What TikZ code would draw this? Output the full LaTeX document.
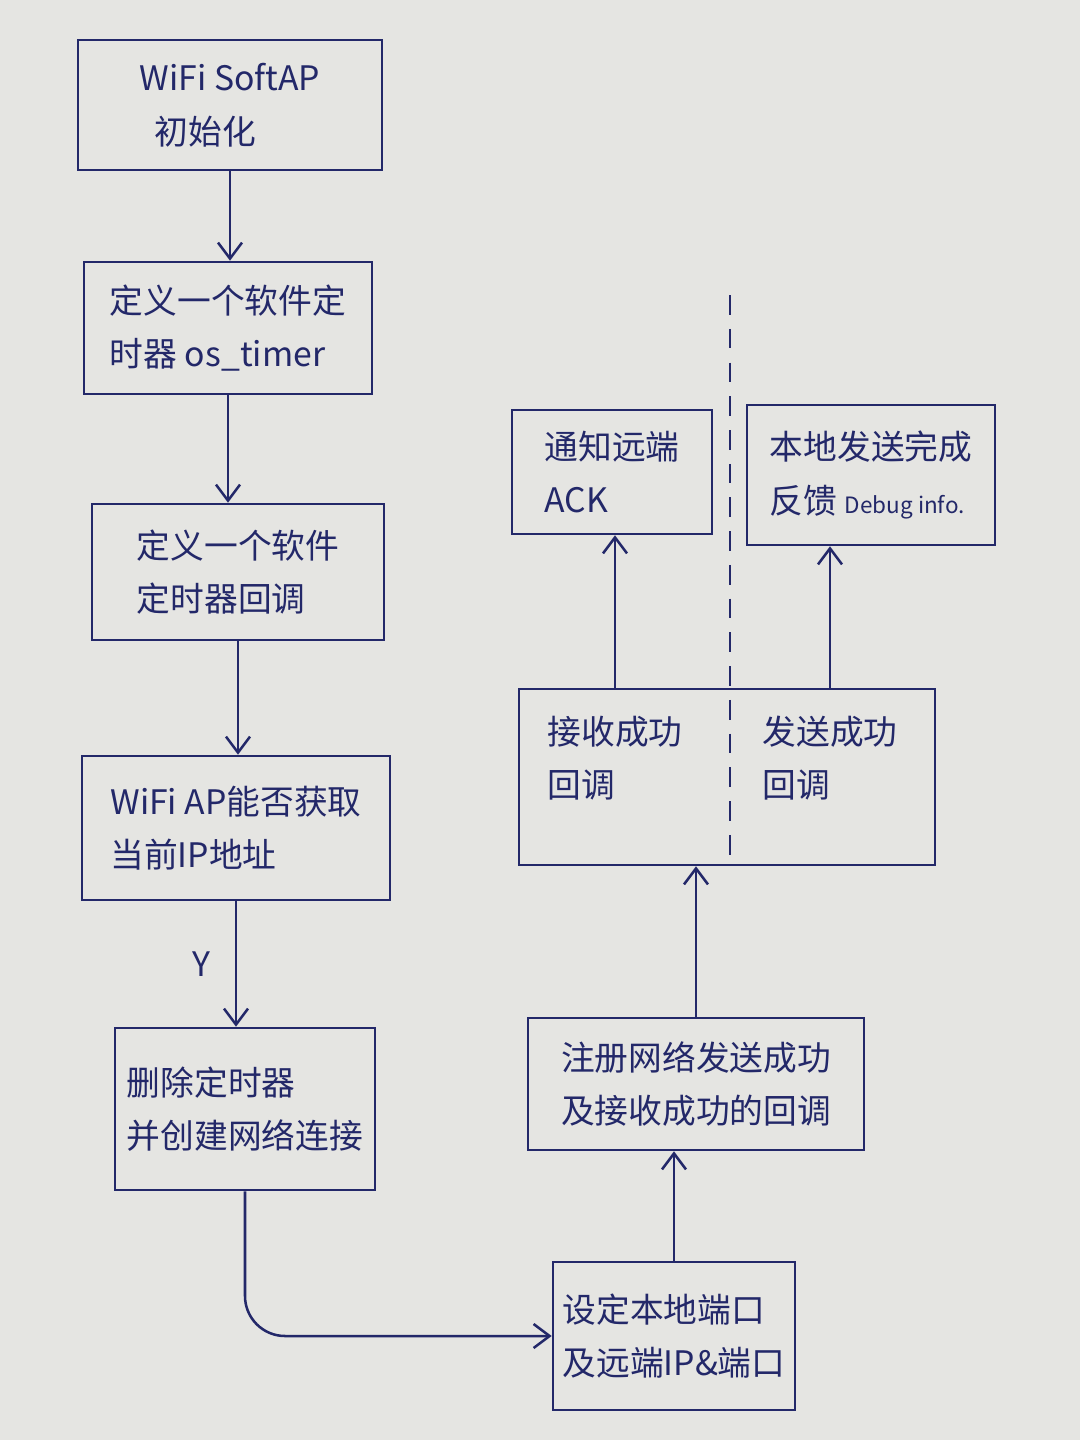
\documentclass[tikz,border=0pt]{standalone}
\usepackage{fontspec}
\newfontfamily\cjk{Noto Sans CJK SC}
\usetikzlibrary{arrows.meta}
\definecolor{ink}{RGB}{35,40,105}
\definecolor{paper}{RGB}{229,229,226}

\begin{document}
\begin{tikzpicture}[x=0.025cm, y=-0.025cm, color=ink, line width=1.8pt,
        >={Straight Barb[length=4mm, width=6mm]},
        box/.style={draw, align=left, font=\cjk\fontsize{24}{38}\selectfont},
        txt/.style={align=left, font=\cjk\fontsize{24}{38}\selectfont}]
            \fill[paper] (0, 0) rectangle (1080, 1440);
            \node[box, minimum width=7.6cm, minimum height=3.25cm] (init) at (230, 105) {WiFi SoftAP\\\ \ 初始化};
            \node[box, minimum width=7.2cm, minimum height=3.3cm] (timer) at (228, 328) {定义一个软件定\\时器 os\_timer};
            \node[box, minimum width=7.3cm, minimum height=3.4cm] (cbdef) at (238, 572) {定义一个软件\\定时器回调};
            \node[box, minimum width=7.7cm, minimum height=3.6cm] (getip) at (236, 828) {WiFi AP能否获取\\当前IP地址};
            \node[box, minimum width=6.5cm, minimum height=4.05cm] (del) at (245, 1109) {删除定时器\\并创建网络连接};
            \node[box, minimum width=6.05cm, minimum height=3.7cm] (set) at (674, 1336) {设定本地端口\\及远端IP\&端口};
            \node[box, minimum width=8.4cm, minimum height=3.3cm] (reg) at (696, 1084) {注册网络发送成功\\及接收成功的回调};
            \node[box, minimum width=10.4cm, minimum height=4.4cm] (cb) at (727, 777) {};
            \node[txt] (recv) at (615, 758) {接收成功\\回调};
            \node[txt] (send) at (830, 758) {发送成功\\回调};
            \node[box, minimum width=5cm, minimum height=3.1cm] (ack) at (612, 472) {通知远端\\ACK};
            \node[box, minimum width=6.2cm, minimum height=3.5cm] (debug) at (871, 475) {本地发送完成\\反馈 {\fontsize{16}{20}\selectfont Debug info.}};
            \coordinate (cut) at (730, 295);
            \draw[dash pattern=on 14pt off 10pt] (cut) -- (cut |- cb.south);
            \draw[->] (init.south) -- (init.south |- timer.north);
            \draw[->] (timer.south) -- (timer.south |- cbdef.north);
            \draw[->] (cbdef.south) -- (cbdef.south |- getip.north);
            \draw[->] (getip.south) -- (getip.south |- del.north) node[midway, left=5mm, font=\cjk\fontsize{24}{30}\selectfont]{Y};
            \draw[->, rounded corners=1cm] (del.south) |- (set.west);
            \draw[->] (set.north) -- (set.north |- reg.south);
            \draw[->] (reg.north) -- (reg.north |- cb.south);
            \draw[->] (recv |- cb.north) -- (recv |- ack.south);
            \draw[->] (send |- cb.north) -- (send |- debug.south);
        \end{tikzpicture}
\end{document}
